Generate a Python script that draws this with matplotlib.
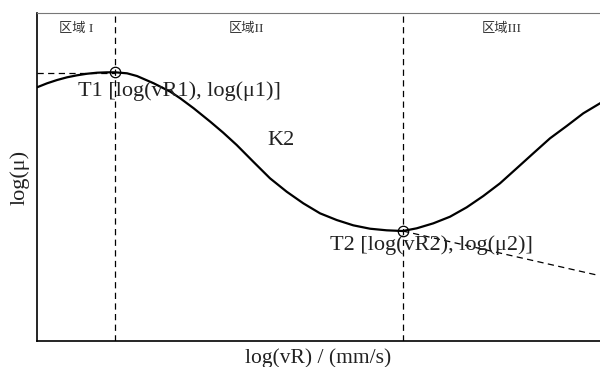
import numpy as np
from matplotlib import pyplot as plt

plt.rcParams['font.family'] = ['Liberation Serif', 'Noto Sans CJK SC']

# curve (axis units 0..10)
curve_x = [0.000, 0.178, 0.355, 0.533, 0.710, 0.888, 1.066, 1.243, 1.391, 1.599,
           1.776, 2.073, 2.368, 2.545, 2.783, 3.078, 3.304, 3.547, 3.842, 4.139,
           4.435, 4.730, 5.027, 5.323, 5.618, 5.915, 6.211, 6.496, 6.744, 7.039,
           7.336, 7.632, 7.927, 8.224, 8.520, 8.815, 9.112, 9.408, 9.703, 10.00]
curve_y = [7.735, 7.857, 7.957, 8.040, 8.101, 8.149, 8.180, 8.192, 8.192, 8.162,
           8.079, 7.857, 7.601, 7.399, 7.095, 6.686, 6.357, 5.976, 5.466, 4.960,
           4.552, 4.198, 3.893, 3.689, 3.527, 3.424, 3.375, 3.354, 3.436, 3.588,
           3.790, 4.076, 4.421, 4.808, 5.265, 5.723, 6.180, 6.555, 6.942, 7.247]

t1 = (1.391, 8.192)
t2 = (6.496, 3.354)
t1_level = 8.16
tangent_end = (9.95, 2.01)

regions = ["区域 I", "区域II", "区域III"]
region_x = [0.70, 3.72, 8.26]

fig = plt.figure(figsize=(6, 3.67), dpi=100)
ax = fig.add_axes([0.0617, 0.0708, 0.9383, 0.8937])
ax.set(xlim=(0, 10), ylim=(0, 10), xticks=[], yticks=[])

ax.plot(curve_x, curve_y, c="k", lw=1.6, zorder=3, solid_joinstyle="round")

# region borders and tangent guides
dash = (0, (5, 3.5))
for xv in (t1[0], t2[0]):
    ax.axvline(xv, c="k", lw=0.9, ls=dash)
ax.plot([0, t1[0]], [t1_level, t1_level], c="k", lw=0.9, ls=dash)
ax.plot([t2[0], tangent_end[0]], [t2[1], tangent_end[1]], c="k", lw=0.9, ls=dash)

ax.plot([t1[0], t2[0]], [t1[1], t2[1]], ls="none", marker="o", ms=7.5,
        mfc="none", mec="k", mew=0.9, zorder=4)

for name, xv in zip(regions, region_x):
    ax.text(xv, 9.5, name, ha="center", va="center", fontsize=9.5, color="#333")

ax.text(0.72, 7.62, "T1 [log(vR1), log(μ1)]", ha="left", va="center",
        fontsize=16, color="#222")
ax.text(5.20, 2.91, "T2 [log(vR2), log(μ2)]", ha="left", va="center",
        fontsize=16, color="#222")
ax.text(4.33, 6.1, "K2", ha="center", va="center", fontsize=16, color="#222")

ax.set_xlabel("log(vR) / (mm/s)", fontsize=15.5, color="#222", labelpad=5)
ax.set_ylabel("log(μ)", fontsize=16, color="#222", labelpad=5)

ax.spines["right"].set_visible(False)
ax.spines["top"].set_color("#777")
ax.spines["top"].set_linewidth(0.8)
ax.spines["left"].set_linewidth(1.2)
ax.spines["bottom"].set_linewidth(1.2)

fig.savefig("out.png", dpi=100)
